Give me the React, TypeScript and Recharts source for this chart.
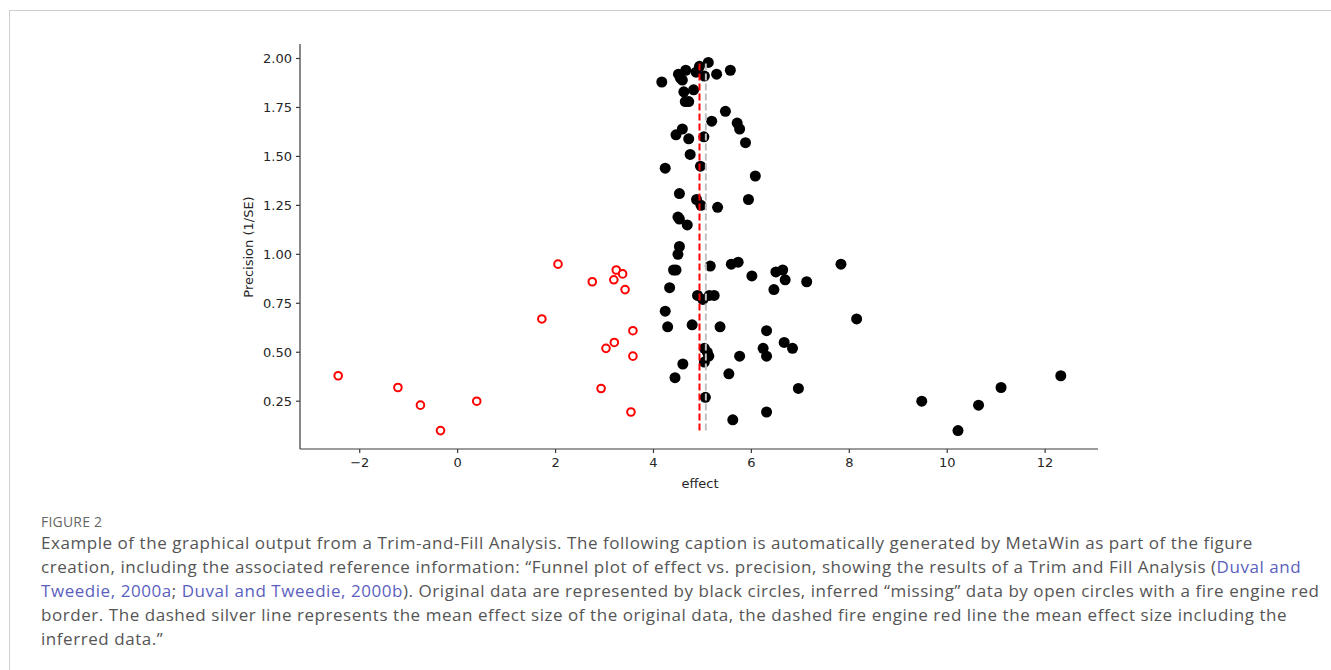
import React from 'react';
import { ScatterChart, Scatter, XAxis, YAxis } from 'recharts';

// original studies (black filled)
const originalEffect = [
  4.17, 4.51, 4.66, 4.59, 4.55, 4.87, 4.94, 5.12, 5.04, 5.29, 5.57,
  4.62, 4.82, 4.65, 4.72, 5.47, 5.19, 5.71, 5.76, 4.59, 4.46, 4.72, 5.03, 5.88, 4.75,
  4.24, 4.96, 6.08, 4.53, 4.88, 4.97, 5.31, 5.94, 4.5, 4.53, 4.69, 4.53, 4.5,
  5.16, 5.59, 5.73, 6.01, 4.41, 4.46, 4.33, 4.9, 5.01, 5.14, 5.24, 4.24, 4.29, 4.79, 5.36,
  6.5, 6.64, 6.69, 6.46, 7.13, 7.83, 8.15, 6.31, 6.67, 6.84, 6.24, 6.31,
  5.04, 5.1, 5.13, 5.04, 5.76, 4.6, 4.44, 5.54, 5.06, 5.62, 6.31, 6.96,
  9.48, 10.22, 10.64, 11.1, 12.32,
];
const originalPrecision = [
  1.88, 1.92, 1.94, 1.89, 1.9, 1.93, 1.96, 1.98, 1.91, 1.92, 1.94,
  1.83, 1.84, 1.78, 1.78, 1.73, 1.68, 1.67, 1.64, 1.64, 1.61, 1.59, 1.6, 1.57, 1.51,
  1.44, 1.45, 1.4, 1.31, 1.28, 1.25, 1.24, 1.28, 1.19, 1.18, 1.15, 1.04, 1.0,
  0.94, 0.95, 0.96, 0.89, 0.92, 0.92, 0.83, 0.79, 0.77, 0.79, 0.79, 0.71, 0.63, 0.64, 0.63,
  0.91, 0.92, 0.87, 0.82, 0.86, 0.95, 0.67, 0.61, 0.55, 0.52, 0.52, 0.48,
  0.52, 0.5, 0.48, 0.45, 0.48, 0.44, 0.37, 0.39, 0.27, 0.155, 0.195, 0.315,
  0.25, 0.1, 0.23, 0.32, 0.38,
];

// inferred "missing" studies (red open)
const inferredEffect = [
  -2.44, -1.22, -0.76, -0.35, 0.39, 2.05, 2.75, 3.24, 3.37, 3.19, 3.42,
  1.72, 3.58, 3.2, 3.03, 3.58, 2.93, 3.54,
];
const inferredPrecision = [
  0.38, 0.32, 0.23, 0.1, 0.25, 0.95, 0.86, 0.92, 0.9, 0.87, 0.82,
  0.67, 0.61, 0.55, 0.52, 0.48, 0.315, 0.195,
];

const meanOriginal = 5.07;
const meanFilled = 4.94;
const precisionRange = [0.1, 1.98];

const xTicks = [-2, 0, 2, 4, 6, 8, 10, 12];
const yTicks = [0.25, 0.5, 0.75, 1.0, 1.25, 1.5, 1.75, 2.0];

const original = originalEffect.map((x, i) => ({ x, y: originalPrecision[i] }));
const inferred = inferredEffect.map((x, i) => ({ x, y: inferredPrecision[i] }));
const silverLine = precisionRange.map((y) => ({ x: meanOriginal, y }));
const redLine = precisionRange.map((y) => ({ x: meanFilled, y }));

const axisColor = '#3a3a3a';
const tickStyle = { fill: '#262626', fontSize: 13, fontFamily: 'DejaVu Sans' };
const linkColor = '#5b5fc0';

const Dot = (p: any) => <circle cx={p.cx} cy={p.cy} r={5.5} fill="#000" />;
const Ring = (p: any) => <circle cx={p.cx} cy={p.cy} r={3.8} fill="#fff" stroke="#ff0000" strokeWidth={2} />;
const NoShape = () => <g />;

export default function App() {
  return (
    <div style={{ position: 'fixed', left: 0, top: 0, width: 1331, height: 670, overflow: 'hidden', background: '#fff' }}>
      <div style={{ position: 'absolute', left: 9, top: 10, width: 1340, height: 700, border: '1px solid #cfcfcf' }} />

      <div style={{ position: 'absolute', left: 0, top: 0 }}>
        <ScatterChart width={1331} height={500} margin={{ top: 44, right: 233, bottom: 11, left: 240 }}>
          <XAxis
            type="number"
            dataKey="x"
            domain={[-3.22, 13.08]}
            ticks={xTicks}
            tickFormatter={(v: number) => (v < 0 ? '\u2212' + Math.abs(v) : String(v))}
            tick={tickStyle}
            tickSize={4}
            tickMargin={5}
            height={40}
            stroke={axisColor}
            strokeWidth={1.2}
            allowDataOverflow
          />
          <YAxis
            type="number"
            dataKey="y"
            domain={[0.006, 2.074]}
            ticks={yTicks}
            tickFormatter={(v: number) => v.toFixed(2)}
            tick={tickStyle}
            tickSize={4}
            tickMargin={4}
            width={60}
            stroke={axisColor}
            strokeWidth={1.2}
            allowDataOverflow
          />
          <Scatter data={inferred} shape={Ring} isAnimationActive={false} />
          <Scatter data={original} shape={Dot} isAnimationActive={false} />
          <Scatter
            data={silverLine}
            shape={NoShape}
            line={{ stroke: '#c0c0c0', strokeWidth: 2, strokeDasharray: '7 3' }}
            isAnimationActive={false}
          />
          <Scatter
            data={redLine}
            shape={NoShape}
            line={{ stroke: '#ff0000', strokeWidth: 2, strokeDasharray: '7 3' }}
            isAnimationActive={false}
          />
        </ScatterChart>
      </div>

      <div
        style={{
          position: 'absolute', left: 248, top: 247, transform: 'translate(-50%, -50%) rotate(-90deg)',
          fontFamily: 'DejaVu Sans', fontSize: 13, color: '#262626', whiteSpace: 'nowrap',
        }}
      >
        Precision (1/SE)
      </div>
      <div
        style={{
          position: 'absolute', left: 700, top: 483, transform: 'translate(-50%, -50%)',
          fontFamily: 'DejaVu Sans', fontSize: 13, color: '#262626',
        }}
      >
        effect
      </div>

      <div style={{ position: 'absolute', left: 41, top: 512, fontFamily: 'Open Sans', fontSize: 14, color: '#666', letterSpacing: 0.2 }}>
        FIGURE 2
      </div>
      <div
        style={{
          position: 'absolute', left: 41, top: 531, fontFamily: 'Open Sans', fontSize: 17, lineHeight: '24px',
          letterSpacing: 0.55, color: '#555', whiteSpace: 'nowrap',
        }}
      >
        <div>Example of the graphical output from a Trim-and-Fill Analysis. The following caption is automatically generated by MetaWin as part of the figure</div>
        <div>
          creation, including the associated reference information: “Funnel plot of effect vs. precision, showing the results of a Trim and Fill Analysis (
          <span style={{ color: linkColor }}>Duval and</span>
        </div>
        <div>
          <span style={{ color: linkColor }}>Tweedie, 2000a</span>; <span style={{ color: linkColor }}>Duval and Tweedie, 2000b</span>). Original data are represented by black circles, inferred “missing” data by open circles with a fire engine red
        </div>
        <div>border. The dashed silver line represents the mean effect size of the original data, the dashed fire engine red line the mean effect size including the</div>
        <div>inferred data.”</div>
      </div>
    </div>
  );
}
